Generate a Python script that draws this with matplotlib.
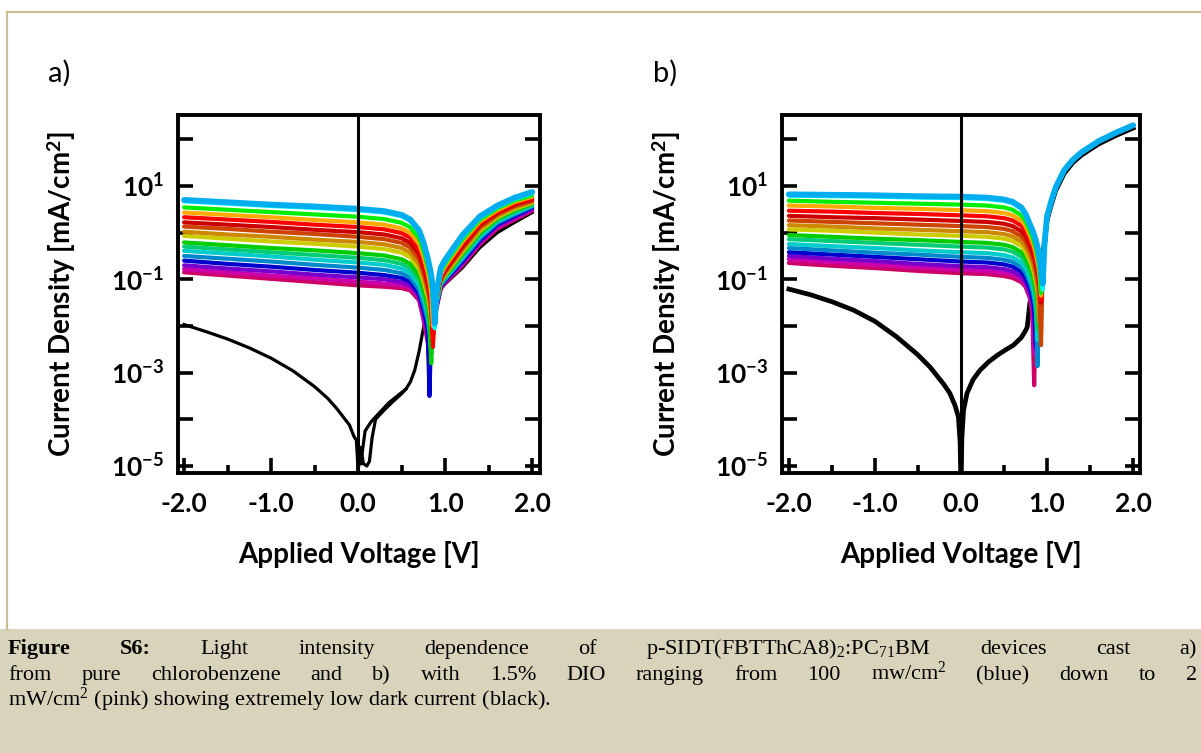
import numpy as np
import matplotlib
matplotlib.use("Agg")
import matplotlib.pyplot as plt
from matplotlib.patches import Rectangle
from matplotlib.lines import Line2D
from matplotlib.ticker import NullLocator

plt.rcParams['font.family'] = ['Lato', 'DejaVu Sans']
plt.rcParams['mathtext.fontset'] = 'custom'
plt.rcParams['mathtext.bf'] = 'Lato:bold'
plt.rcParams['mathtext.rm'] = 'Liberation Serif'
plt.rcParams['mathtext.default'] = 'rm'

# curve colours, 100 mW/cm2 (light blue) down to 2 mW/cm2 (pink)
colors = ['#00aeef', '#00ffff', '#00ee00', '#ffaa00', '#ff0000', '#cc0000',
          '#cc4400', '#cc8800', '#cccc00', '#00cc00', '#00cc77', '#00cccc',
          '#0088cc', '#0000cc', '#7700cc', '#cc00aa', '#cc0066']

# ---- panel a: log10 |J| on a shared voltage grid ----
va = [-2.0, -1.5, -1.0, -0.5, 0.0, 0.3, 0.5, 0.6, 0.7, 0.75, 0.8, 0.82, 0.84,
      0.86, 0.88, 0.9, 0.95, 1.0, 1.2, 1.4, 1.6, 1.8, 2.0]
logj_a = [
    [0.70, 0.65, 0.60, 0.56, 0.51, 0.46, 0.38, 0.28, 0.05, -0.20, -0.55, -0.72, -0.92, -1.20, -1.95, -1.30, -0.75, -0.58, -0.05, 0.35, 0.58, 0.75, 0.87],
    [0.67, 0.62, 0.57, 0.53, 0.48, 0.43, 0.35, 0.25, 0.02, -0.24, -0.60, -0.78, -0.98, -1.28, -2.05, -1.35, -0.80, -0.62, -0.09, 0.32, 0.55, 0.72, 0.84],
    [0.54, 0.49, 0.44, 0.39, 0.34, 0.29, 0.21, 0.11, -0.12, -0.38, -0.72, -0.90, -1.10, -1.40, -1.90, -1.40, -0.85, -0.67, -0.14, 0.28, 0.52, 0.69, 0.80],
    [0.43, 0.38, 0.33, 0.27, 0.22, 0.17, 0.09, -0.01, -0.24, -0.50, -0.85, -1.05, -1.30, -2.00, -1.50, -1.35, -0.90, -0.72, -0.19, 0.24, 0.48, 0.66, 0.77],
    [0.33, 0.28, 0.23, 0.17, 0.12, 0.07, -0.01, -0.11, -0.35, -0.62, -0.97, -1.17, -1.45, -2.45, -1.55, -1.38, -0.95, -0.77, -0.24, 0.20, 0.45, 0.63, 0.74],
    [0.22, 0.17, 0.12, 0.06, 0.01, -0.04, -0.12, -0.22, -0.46, -0.73, -1.08, -1.28, -1.55, -2.20, -1.58, -1.40, -0.98, -0.81, -0.29, 0.16, 0.42, 0.60, 0.71],
    [0.13, 0.08, 0.02, -0.03, -0.09, -0.14, -0.22, -0.32, -0.56, -0.83, -1.18, -1.38, -1.65, -2.20, -1.60, -1.42, -1.00, -0.84, -0.33, 0.12, 0.39, 0.57, 0.68],
    [0.02, -0.04, -0.09, -0.15, -0.20, -0.25, -0.33, -0.43, -0.67, -0.94, -1.28, -1.48, -1.75, -2.30, -1.62, -1.44, -1.02, -0.87, -0.37, 0.08, 0.36, 0.54, 0.66],
    [-0.07, -0.13, -0.19, -0.24, -0.30, -0.35, -0.43, -0.53, -0.77, -1.04, -1.38, -1.58, -1.85, -2.30, -1.64, -1.46, -1.04, -0.90, -0.41, 0.04, 0.33, 0.51, 0.64],
    [-0.21, -0.27, -0.33, -0.38, -0.44, -0.49, -0.57, -0.67, -0.92, -1.20, -1.55, -1.85, -2.80, -1.75, -1.60, -1.48, -1.06, -0.93, -0.45, 0.00, 0.30, 0.48, 0.62],
    [-0.30, -0.36, -0.42, -0.48, -0.54, -0.59, -0.67, -0.77, -1.02, -1.30, -1.65, -1.95, -2.60, -1.78, -1.62, -1.50, -1.08, -0.95, -0.49, -0.04, 0.27, 0.45, 0.60],
    [-0.39, -0.45, -0.51, -0.58, -0.64, -0.69, -0.77, -0.87, -1.12, -1.40, -1.75, -2.05, -2.50, -1.80, -1.64, -1.52, -1.10, -0.98, -0.53, -0.08, 0.24, 0.42, 0.58],
    [-0.50, -0.56, -0.62, -0.69, -0.75, -0.80, -0.87, -0.97, -1.22, -1.52, -1.88, -2.15, -2.60, -1.82, -1.66, -1.54, -1.12, -1.00, -0.57, -0.12, 0.21, 0.39, 0.56],
    [-0.60, -0.67, -0.73, -0.80, -0.86, -0.91, -0.97, -1.05, -1.30, -1.62, -2.05, -3.50, -2.00, -1.85, -1.68, -1.56, -1.14, -1.02, -0.61, -0.16, 0.18, 0.36, 0.54],
    [-0.70, -0.77, -0.83, -0.90, -0.96, -1.00, -1.06, -1.13, -1.36, -1.70, -2.15, -3.00, -2.00, -1.86, -1.70, -1.58, -1.16, -1.04, -0.64, -0.19, 0.15, 0.33, 0.51],
    [-0.78, -0.85, -0.92, -0.98, -1.05, -1.09, -1.13, -1.18, -1.40, -1.78, -2.25, -2.80, -2.00, -1.87, -1.72, -1.60, -1.18, -1.06, -0.67, -0.22, 0.12, 0.30, 0.49],
    [-0.85, -0.92, -0.99, -1.06, -1.13, -1.16, -1.19, -1.24, -1.45, -1.85, -2.35, -2.70, -2.00, -1.88, -1.74, -1.62, -1.20, -1.08, -0.70, -0.25, 0.09, 0.28, 0.47],
]
dark_va = [-2.0, -1.75, -1.5, -1.25, -1.0, -0.75, -0.5, -0.35, -0.25, -0.15, -0.1,
           -0.05, -0.02, 0.0, 0.03, 0.06, 0.1, 0.13, 0.16, 0.2, 0.3, 0.4, 0.5,
           0.55, 0.6, 0.65, 0.7, 0.75, 0.8, 0.85, 0.9, 1.0, 1.2, 1.4, 1.6, 1.8, 2.0]
dark_ja = [-1.97, -2.12, -2.28, -2.47, -2.69, -2.96, -3.30, -3.55, -3.76, -4.00, -4.12,
           -4.36, -4.45, -5.10, -4.60, -4.95, -5.00, -4.90, -4.40, -4.00, -3.80, -3.62, -3.45,
           -3.35, -3.20, -2.95, -2.55, -2.05, -1.60, -1.38, -1.27, -1.10, -0.75, -0.32, 0.00, 0.22, 0.43]
# second (return sweep) trace of the dark curve
dark2_va = [0.03, 0.08, 0.15, 0.25, 0.35, 0.45, 0.55]
dark2_ja = [-4.95, -4.25, -4.05, -3.85, -3.65, -3.50, -3.35]

# ---- panel b ----
vb = [-2.0, -1.5, -1.0, -0.5, 0.0, 0.3, 0.5, 0.6, 0.7, 0.75, 0.8, 0.83, 0.85,
      0.87, 0.89, 0.91, 0.93, 0.95, 0.97]
logj_b = [
    [0.82, 0.81, 0.80, 0.78, 0.77, 0.75, 0.71, 0.66, 0.54, 0.40, 0.18, 0.05, -0.05, -0.17, -0.32, -0.52, -0.80, -1.10, -0.25],
    [0.79, 0.78, 0.77, 0.75, 0.74, 0.72, 0.68, 0.63, 0.51, 0.37, 0.15, 0.02, -0.08, -0.20, -0.36, -0.56, -0.85, -1.22, -0.27],
    [0.685, 0.66, 0.64, 0.62, 0.60, 0.58, 0.54, 0.49, 0.37, 0.25, 0.04, -0.10, -0.21, -0.35, -0.52, -0.75, -1.30, -0.60, -0.28],
    [0.58, 0.56, 0.53, 0.51, 0.48, 0.46, 0.42, 0.37, 0.26, 0.14, -0.06, -0.20, -0.31, -0.46, -0.64, -0.88, -1.35, -0.62, -0.28],
    [0.47, 0.45, 0.42, 0.40, 0.37, 0.35, 0.31, 0.26, 0.15, 0.04, -0.16, -0.30, -0.42, -0.57, -0.76, -1.00, -1.45, -0.64, -0.28],
    [0.36, 0.33, 0.31, 0.28, 0.25, 0.23, 0.19, 0.14, 0.03, -0.08, -0.27, -0.41, -0.53, -0.68, -0.88, -1.12, -1.50, -0.66, -0.29],
    [0.26, 0.23, 0.20, 0.17, 0.14, 0.12, 0.08, 0.03, -0.08, -0.19, -0.38, -0.52, -0.64, -0.80, -1.00, -1.25, -2.41, -0.68, -0.29],
    [0.16, 0.13, 0.09, 0.06, 0.03, 0.01, -0.03, -0.08, -0.19, -0.30, -0.49, -0.64, -0.77, -0.94, -1.15, -1.90, -1.00, -0.70, -0.30],
    [0.07, 0.04, 0.00, -0.04, -0.07, -0.09, -0.13, -0.18, -0.29, -0.40, -0.60, -0.75, -0.88, -1.05, -1.28, -1.90, -1.02, -0.71, -0.30],
    [-0.05, -0.09, -0.13, -0.16, -0.20, -0.22, -0.26, -0.31, -0.42, -0.54, -0.74, -0.90, -1.03, -1.22, -1.45, -2.00, -1.05, -0.72, -0.31],
    [-0.14, -0.18, -0.22, -0.26, -0.30, -0.32, -0.36, -0.41, -0.52, -0.64, -0.85, -1.02, -1.17, -1.40, -2.10, -1.30, -1.07, -0.73, -0.31],
    [-0.245, -0.29, -0.33, -0.38, -0.42, -0.44, -0.48, -0.53, -0.64, -0.76, -0.97, -1.14, -1.30, -1.55, -2.30, -1.32, -1.08, -0.74, -0.32],
    [-0.33, -0.38, -0.43, -0.47, -0.52, -0.54, -0.58, -0.63, -0.74, -0.86, -1.07, -1.25, -1.42, -1.70, -2.86, -1.34, -1.10, -0.75, -0.32],
    [-0.42, -0.47, -0.52, -0.57, -0.62, -0.64, -0.68, -0.73, -0.84, -0.96, -1.18, -1.38, -1.60, -2.40, -1.55, -1.36, -1.12, -0.76, -0.33],
    [-0.50, -0.56, -0.61, -0.67, -0.72, -0.74, -0.78, -0.83, -0.94, -1.06, -1.28, -1.50, -1.75, -2.50, -1.57, -1.38, -1.14, -0.77, -0.33],
    [-0.57, -0.63, -0.69, -0.74, -0.80, -0.82, -0.86, -0.90, -1.00, -1.12, -1.36, -1.65, -2.60, -1.75, -1.59, -1.40, -1.16, -0.78, -0.34],
    [-0.65, -0.71, -0.76, -0.82, -0.87, -0.89, -0.93, -0.97, -1.06, -1.16, -1.40, -1.75, -3.27, -1.80, -1.60, -1.42, -1.18, -0.80, -0.34],
]
# forward branch, common to all illuminated curves in b
rise_vb = [1.0, 1.05, 1.1, 1.2, 1.3, 1.4, 1.6, 1.8, 2.0]
rise_jb = [0.35, 0.68, 0.97, 1.34, 1.56, 1.72, 1.96, 2.14, 2.30]
dark_vb = [-2.0, -1.75, -1.5, -1.25, -1.0, -0.75, -0.5, -0.36, -0.2, -0.13, -0.07,
           -0.03, -0.01, 0.0, 0.01, 0.03, 0.07, 0.14, 0.22, 0.32, 0.42, 0.52, 0.61,
           0.7, 0.75, 0.77, 0.8, 0.85, 0.9, 0.95, 1.0, 1.05, 1.1, 1.2, 1.3, 1.4, 1.6, 1.8, 2.0]
dark_jb = [-1.21, -1.33, -1.48, -1.66, -1.90, -2.23, -2.62, -2.88, -3.25, -3.44, -3.70,
           -3.95, -4.50, -5.60, -4.40, -3.80, -3.44, -3.15, -2.95, -2.77, -2.63, -2.51, -2.41,
           -2.25, -2.10, -2.02, -1.51, -1.10, -0.80, -0.50, 0.27, 0.60, 0.90, 1.27, 1.50, 1.66, 1.90, 2.08, 2.24]

xticks = [-2.0, -1.0, 0.0, 1.0, 2.0]
xticklabels = ['-2.0', '-1.0', '0.0', '1.0', '2.0']
xminor = [-1.5, -0.5, 0.5, 1.5]
ydecades = [-5, -4, -3, -2, -1, 0, 1, 2]

cap1 = ["Figure", "S6:", "Light", "intensity", "dependence", "of",
        "p-SIDT(FBTThCA8)$_2$:PC$_{71}$BM", "devices", "cast", "a)"]
cap2 = ["from", "pure", "chlorobenzene", "and", "b)", "with", "1.5%", "DIO", "ranging",
        "from", "100", "mw/cm$^2$", "(blue)", "down", "to", "2"]
cap3 = "mW/cm$^2$ (pink) showing extremely low dark current (black)."

W, H = 1201, 753
fig = plt.figure(figsize=(W / 100, H / 100), dpi=100)
fig.patch.set_facecolor('white')


def fx(px):
    return px / W


def fy(py):
    return 1 - py / H


def style_axes(ax, xlim):
    ax.set_yscale('log')
    ax.set_xlim(*xlim)
    ax.set_ylim(10 ** -5.15, 10 ** 2.52)
    ax.set_yticks([10.0 ** k for k in ydecades])
    ax.set_yticklabels([r'$\mathbf{10^{%d}}$' % k if k % 2 else '' for k in ydecades])
    ax.yaxis.set_minor_locator(NullLocator())
    ax.set_xticks(xticks)
    ax.set_xticklabels(xticklabels)
    ax.set_xticks(xminor, minor=True)
    for s in ax.spines.values():
        s.set_linewidth(2.8)
    ax.tick_params(axis='y', which='major', direction='in', left=True, right=True,
                   length=11, width=2.6, labelsize=19, pad=10)
    ax.tick_params(axis='x', which='major', direction='in', top=False,
                   length=11, width=2.6, labelsize=19, pad=14)
    ax.tick_params(axis='x', which='minor', direction='in', top=False,
                   length=6, width=2.6)
    for lab in ax.get_xticklabels():
        lab.set_fontweight('bold')
    ax.axvline(0, color='black', lw=2.2, zorder=6)
    ax.text(0.5, -0.229, 'Applied Voltage [V]', transform=ax.transAxes, ha='center',
            va='center', fontsize=20, fontweight='bold')
    ax.text(-0.322, 0.5, r'Current Density [mA/cm$^\mathbf{2}$]', transform=ax.transAxes,
            ha='center', va='center', rotation=90, fontsize=20, fontweight='bold')


def draw_light(ax, x, rows):
    # draw the dimmest first so the brightest ends on top
    for i in range(len(rows) - 1, -1, -1):
        ax.plot(x, 10.0 ** np.array(rows[i]), color=colors[i],
                lw=4.2 if i == 0 else 3.0,
                solid_capstyle='round', solid_joinstyle='round', zorder=3)


ax_a = fig.add_axes([fx(178), fy(473), 362 / W, 358 / H])
ax_a.plot(dark_va, 10.0 ** np.array(dark_ja), color='black', lw=2.3, zorder=2)
ax_a.plot(dark2_va, 10.0 ** np.array(dark2_ja), color='black', lw=2.3, zorder=2)
draw_light(ax_a, va, logj_a)
style_axes(ax_a, (-2.07, 2.09))

ax_b = fig.add_axes([fx(782), fy(473), 358 / W, 358 / H])
ax_b.plot(dark_vb, 10.0 ** np.array(dark_jb), color='black', lw=3.4, zorder=2)
draw_light(ax_b, vb + rise_vb, [r + rise_jb for r in logj_b])
style_axes(ax_b, (-2.08, 2.08))

fig.text(fx(59), fy(73), 'a)', fontsize=21, ha='center', va='center')
fig.text(fx(665), fy(73), 'b)', fontsize=21, ha='center', va='center')

# frame and caption box
border = '#c8bf98'
fig.add_artist(Line2D([fx(7), fx(7)], [fy(12), fy(629)], color=border, lw=1.6))
fig.add_artist(Line2D([fx(7), 1.0], [fy(12), fy(12)], color=border, lw=1.6))
fig.add_artist(Rectangle((0, 0), 1, fy(629), transform=fig.transFigure,
                         facecolor='#d8d3ba', edgecolor='none', zorder=0))

# justified caption lines
renderer = fig.canvas.get_renderer()
cap_font = dict(fontsize=16, family='Liberation Serif', va='baseline')
x0, x1 = 8, 1197
for words, base, nbold in ((cap1, 654, 2), (cap2, 680, 0)):
    texts = []
    for k, w in enumerate(words):
        texts.append(fig.text(0, fy(base), w, fontweight='bold' if k < nbold else 'normal',
                              **cap_font))
    widths = [t.get_window_extent(renderer).width for t in texts]
    gap = (x1 - x0 - sum(widths)) / (len(words) - 1)
    xpos = x0
    for t, w in zip(texts, widths):
        t.set_x(fx(xpos))
        xpos += w + gap
fig.text(fx(x0), fy(706), cap3, **cap_font)

fig.savefig('out.png', dpi=100)
